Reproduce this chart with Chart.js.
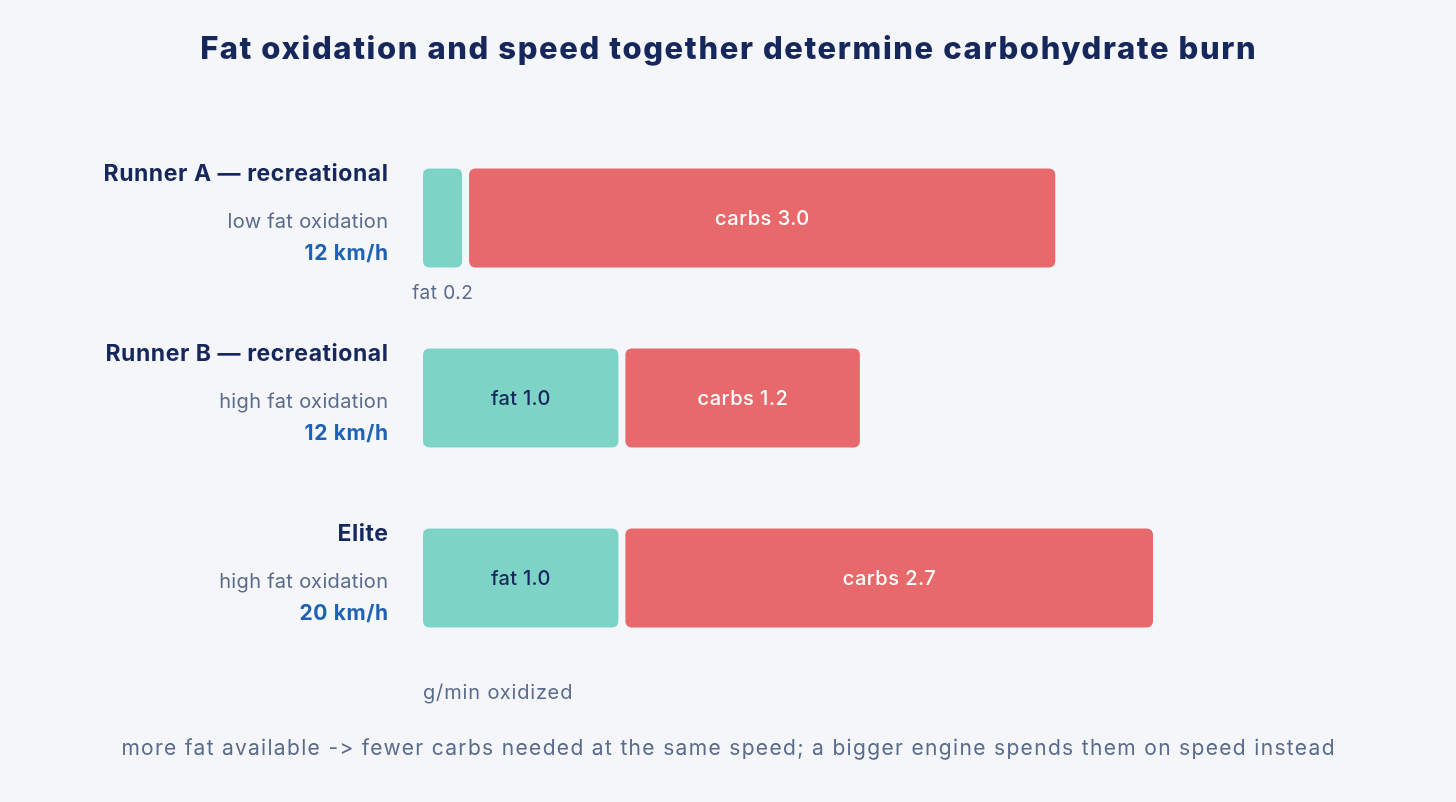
<!DOCTYPE html>
<html><head><meta charset="utf-8">
<script src="https://cdn.jsdelivr.net/npm/chart.js@4.4.0/dist/chart.umd.min.js"></script>
<style>html,body{margin:0;padding:0;background:#f4f6fa;} #wrap{width:1456px;height:802px;position:relative;}</style>
</head><body><div id="wrap"><canvas id="c"></canvas></div>
<script>
const categories = ["Runner A — recreational", "Runner B — recreational", "Elite"];
const profiles = ["low fat oxidation", "high fat oxidation", "high fat oxidation"];
const speeds = ["12 km/h", "12 km/h", "20 km/h"];
const fatValues = [0.2, 1.0, 1.0];
const carbValues = [3.0, 1.2, 2.7];
const titleText = "Fat oxidation and speed together determine carbohydrate burn";
const axisTitle = "g/min oxidized";
const footerText = "more fat available -> fewer carbs needed at the same speed; a bigger engine spends them on speed instead";

const FONT = "Inter, 'Noto Sans', sans-serif";
const NAVY = "#16275c", GREY = "#5b6b8c", BLUE = "#1f62b5";
const TEAL = "#7dd3c6", RED = "#e8696b", BG = "#f4f6fa";
const GAP = 7;

const gapPlugin = {
  id: 'gap',
  afterDatasetsUpdate(chart) {
    const meta = chart.getDatasetMeta(1);
    meta.data.forEach(el => { el.x += GAP; el.base += GAP; });
  }
};

function txt(ctx, text, x, y, font, color, align, spacing) {
  ctx.font = font;
  ctx.fillStyle = color;
  ctx.letterSpacing = (spacing || 0) + "px";
  ctx.textBaseline = 'middle';
  const w = ctx.measureText(text).width - (spacing || 0);
  let left = x;
  if (align === 'center') left = x - w / 2;
  else if (align === 'right') left = x - w;
  ctx.textAlign = 'left';
  ctx.fillText(text, left, y);
}

// draws text in pieces at every "->" so the font does not turn it into an arrow glyph
function txtPlain(ctx, text, cx, y, font, color, spacing) {
  ctx.font = font;
  ctx.letterSpacing = spacing + "px";
  const idx = text.indexOf("->");
  const parts = idx >= 0 ? [text.slice(0, idx + 1), text.slice(idx + 1)] : [text];
  const widths = parts.map(p => ctx.measureText(p).width);
  const total = widths.reduce((a, b) => a + b, 0) - spacing;
  let x = cx - total / 2;
  parts.forEach((p, i) => { txt(ctx, p, x, y, font, color, 'left', spacing); x += widths[i]; });
}

const textPlugin = {
  id: 'texts',
  beforeDraw(chart) {
    const ctx = chart.ctx;
    ctx.save();
    ctx.fillStyle = BG;
    ctx.fillRect(0, 0, chart.width, chart.height);
    ctx.restore();
  },
  afterDatasetsDraw(chart) {
    const ctx = chart.ctx;
    const ca = chart.chartArea;
    ctx.save();
    txt(ctx, titleText, chart.width / 2, 50, "800 31px " + FONT, NAVY, 'center', 1.6);

    const fatMeta = chart.getDatasetMeta(0);
    const carbMeta = chart.getDatasetMeta(1);
    fatMeta.data.forEach((el, i) => {
      const top = el.y - el.height / 2;
      const bottom = el.y + el.height / 2;
      txt(ctx, categories[i], 388, top + 6, "700 23px " + FONT, NAVY, 'right', 0.55);
      txt(ctx, profiles[i], 388, top + 53, "400 20px " + FONT, GREY, 'right', 0.35);
      txt(ctx, speeds[i], 388, top + 85, "700 21px " + FONT, BLUE, 'right', 0.6);

      const fw = Math.abs(el.x - el.base);
      const fcx = (el.x + el.base) / 2;
      const fl = "fat " + fatValues[i].toFixed(1);
      if (fw > 90) {
        txt(ctx, fl, fcx, el.y + 1, "500 20px " + FONT, NAVY, 'center', 0.3);
      } else {
        txt(ctx, fl, fcx, bottom + 26, "400 19px " + FONT, GREY, 'center', 0.5);
      }
      const c = carbMeta.data[i];
      txt(ctx, "carbs " + carbValues[i].toFixed(1), (c.x + c.base) / 2, c.y + 1, "500 20px " + FONT, "#ffffff", 'center', 0.5);
    });

    txt(ctx, axisTitle, ca.left, 693, "400 20px " + FONT, GREY, 'left', 0.85);
    txtPlain(ctx, footerText, chart.width / 2, 749, "400 21px " + FONT, GREY, 1.33);
    ctx.restore();
  }
};

const radius = {topLeft: 6, topRight: 6, bottomLeft: 6, bottomRight: 6};

new Chart(document.getElementById('c'), {
  type: 'bar',
  data: {
    labels: categories,
    datasets: [
      { label: 'fat', data: fatValues, backgroundColor: TEAL, borderRadius: radius, borderSkipped: false,
        barPercentage: 0.55, categoryPercentage: 1 },
      { label: 'carbs', data: carbValues, backgroundColor: RED, borderRadius: radius, borderSkipped: false,
        barPercentage: 0.55, categoryPercentage: 1 }
    ]
  },
  options: {
    indexAxis: 'y',
    responsive: true,
    maintainAspectRatio: false,
    animation: false,
    devicePixelRatio: 1,
    layout: { padding: { left: 423, right: 56, top: 128, bottom: 134 } },
    scales: {
      x: { stacked: true, min: 0, max: 5, display: false },
      y: { stacked: true, display: false, offset: true }
    },
    plugins: { legend: { display: false }, tooltip: { enabled: false }, title: { display: false } }
  },
  plugins: [gapPlugin, textPlugin]
});
</script>
</body></html>
